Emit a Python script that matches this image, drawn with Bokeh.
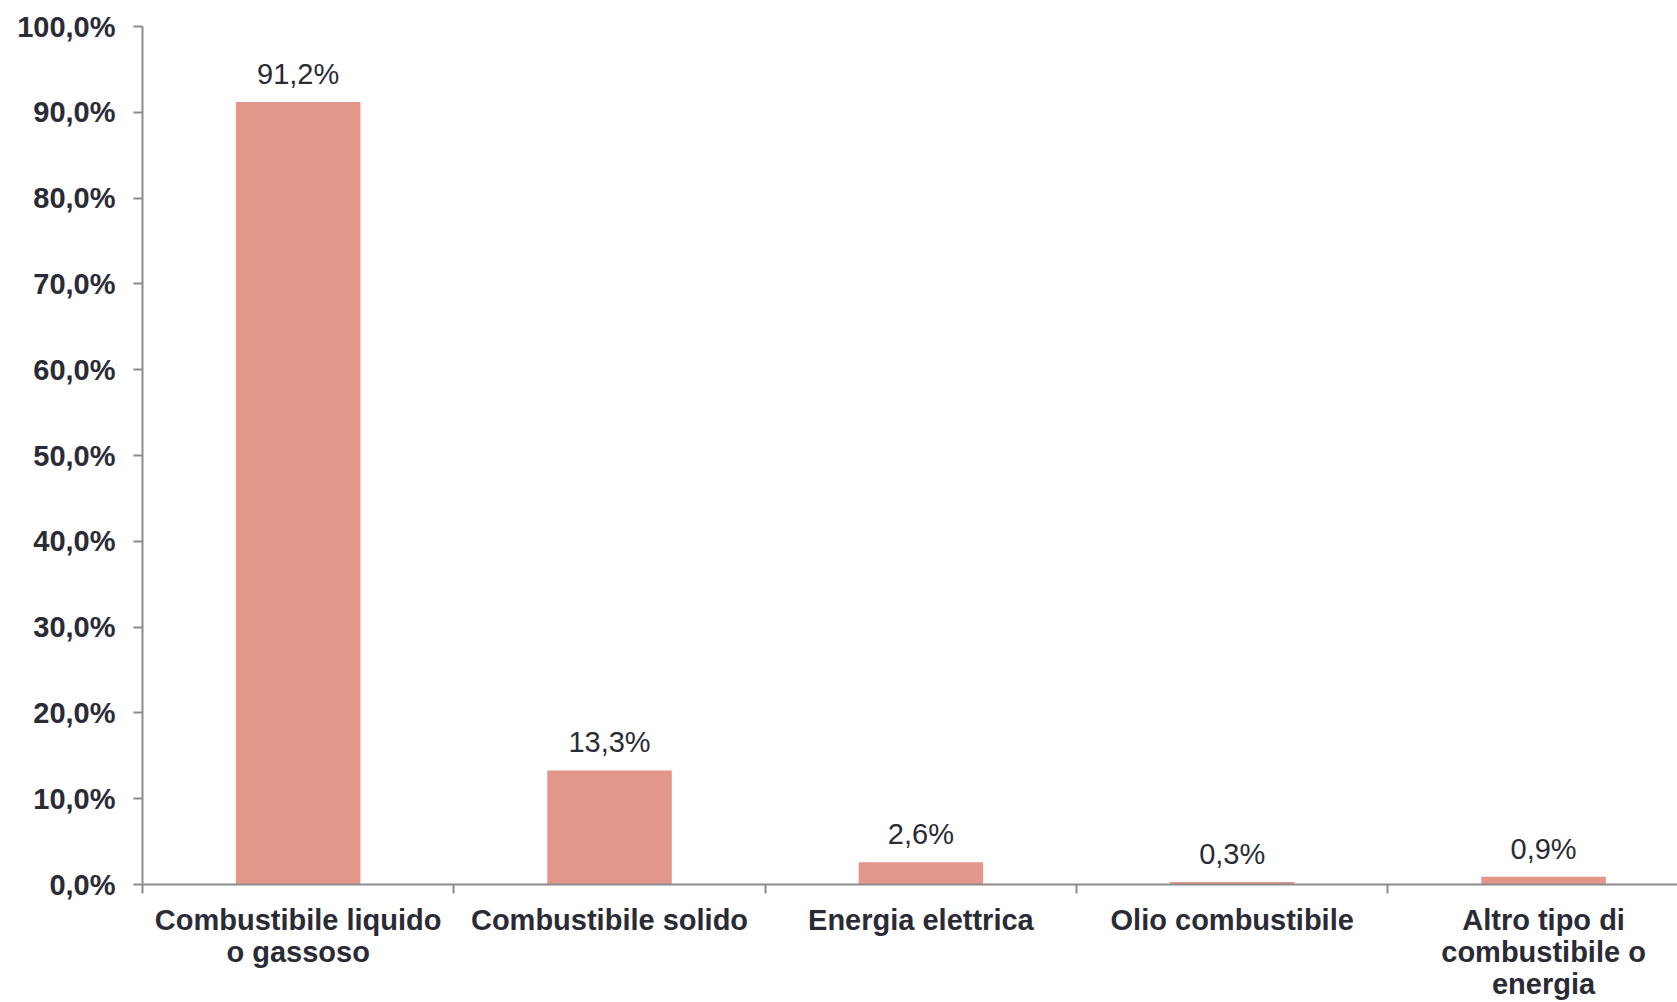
from bokeh.plotting import figure
from bokeh.models import ColumnDataSource, FixedTicker, LabelSet, Range1d
from bokeh.core.properties import value
from bokeh.embed import file_html
from bokeh.resources import INLINE

# ---- data ----
categories = [
    "Combustibile liquido\no gassoso",
    "Combustibile solido",
    "Energia elettrica",
    "Olio combustibile",
    "Altro tipo di\ncombustibile o\nenergia",
]
values = [91.2, 13.3, 2.6, 0.3, 0.9]
y_ticks = [0, 10, 20, 30, 40, 50, 60, 70, 80, 90, 100]
y_tick_labels = ["0,0%", "10,0%", "20,0%", "30,0%", "40,0%", "50,0%",
                 "60,0%", "70,0%", "80,0%", "90,0%", "100,0%"]

# ---- derived ----
x_pos = [i + 0.5 for i in range(len(categories))]
value_labels = [f"{v:.1f}".replace(".", ",") + "%" for v in values]
source = ColumnDataSource(dict(x=x_pos, top=values, lab=value_labels))

FONT = "Liberation Sans"
TEXT = "#2b2b36"
AXIS = "#8c8c8c"
BAR = "#E3978A"

W, H = 1677, 1002
left_border = 142
cat_w = 311.35
x_end = (W - left_border) / cat_w

p = figure(width=W, height=H, output_backend="svg", toolbar_location=None,
           x_range=Range1d(0, x_end), y_range=Range1d(0, 100),
           min_border_left=left_border, min_border_right=0,
           min_border_top=26, min_border_bottom=116)
p.outline_line_color = None
p.xgrid.visible = False
p.ygrid.visible = False
p.background_fill_color = "white"

p.vbar(x="x", top="top", width=0.4, bottom=0, source=source,
       fill_color=BAR, line_color=None)

labels = LabelSet(x="x", y="top", text="lab", source=source,
                  text_align="center", text_baseline="bottom", y_offset=12,
                  text_font=value(FONT), text_font_size="29px", text_color=TEXT)
p.add_layout(labels)

# y axis
ya = p.yaxis[0]
ya.ticker = FixedTicker(ticks=y_ticks, minor_ticks=[])
ya.major_label_overrides = {t: l for t, l in zip(y_ticks, y_tick_labels)}
ya.axis_line_color = AXIS
ya.axis_line_width = 2
ya.major_tick_line_color = AXIS
ya.major_tick_line_width = 2
ya.major_tick_out = 9
ya.major_tick_in = 0
ya.minor_tick_line_color = None
ya.major_label_standoff = 18
ya.major_label_text_font = FONT
ya.major_label_text_font_size = "29px"
ya.major_label_text_font_style = "bold"
ya.major_label_text_color = TEXT

# x axis
xa = p.xaxis[0]
xa.ticker = FixedTicker(ticks=x_pos, minor_ticks=list(range(len(categories) + 1)))
xa.major_label_overrides = {x: c for x, c in zip(x_pos, categories)}
xa.axis_line_color = AXIS
xa.axis_line_width = 2
xa.major_tick_line_color = None
xa.major_tick_out = 0
xa.major_tick_in = 0
xa.minor_tick_line_color = AXIS
xa.minor_tick_line_width = 2
xa.minor_tick_out = 9
xa.minor_tick_in = 0
xa.major_label_standoff = 10
xa.major_label_text_font = FONT
xa.major_label_text_font_size = "29px"
xa.major_label_text_font_style = "bold"
xa.major_label_text_color = TEXT
xa.major_label_text_line_height = 1.0

open("out.html", "w").write(file_html(p, INLINE))
